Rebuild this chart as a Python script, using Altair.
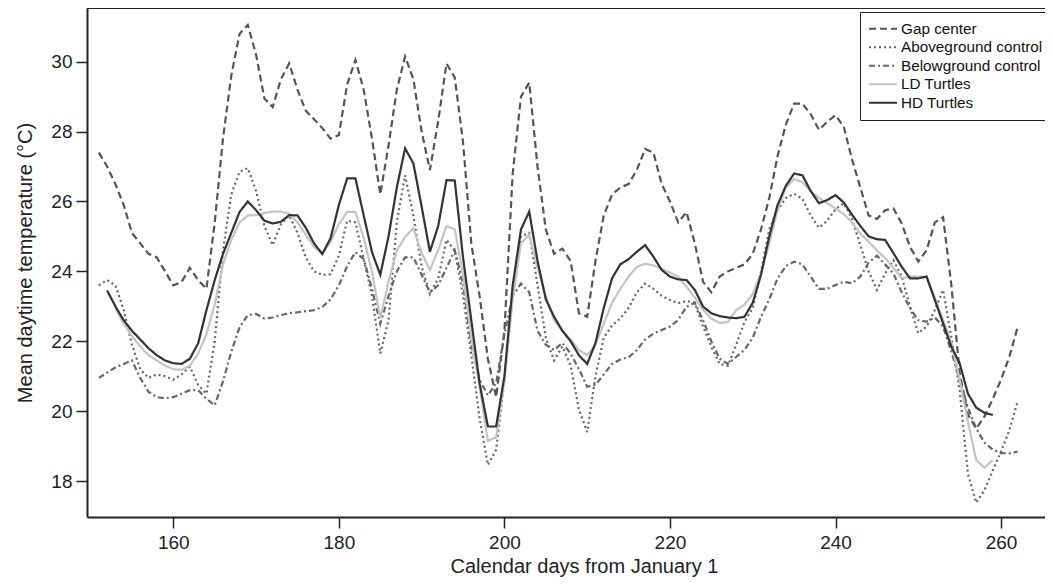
import altair as alt
import pandas as pd

# ---------------- data ----------------
gap_days = list(range(151, 263))
gap_center = [27.4, 27.0, 26.5, 25.9, 25.1, 24.8, 24.5, 24.4, 24.0, 23.6,
              23.7, 24.1, 23.75, 23.5, 25.4, 27.8, 29.6, 30.8, 31.05, 30.2,
              28.95, 28.7, 29.5, 29.95, 29.2, 28.6, 28.35, 28.1, 27.8, 27.9,
              29.35, 30.05, 29.2, 27.8, 26.2, 27.6, 29.2, 30.15, 29.5, 28.0,
              26.9, 28.3, 29.95, 29.55, 27.7, 24.8, 23.3, 21.5, 20.4, 22.3,
              26.8, 29.0, 29.4, 27.0, 25.2, 24.5, 24.65, 24.3, 22.8, 22.7,
              24.3, 25.6, 26.2, 26.4, 26.5, 26.9, 27.5, 27.4, 26.5, 26.0,
              25.4, 25.7, 24.8, 23.7, 23.4, 23.85, 24.0, 24.1, 24.2, 24.5,
              25.2, 26.1, 27.3, 28.2, 28.8, 28.8, 28.5, 28.05, 28.28, 28.47,
              28.14, 27.2, 26.4, 25.6, 25.5, 25.75, 25.8, 25.37, 24.7, 24.28,
              24.6, 25.4, 25.55, 23.6, 21.1, 19.9, 19.5, 19.85, 20.35, 20.9,
              21.55, 22.4]

above_days = list(range(151, 263))
aboveground = [23.6, 23.75, 23.6, 22.9, 21.9, 21.2, 20.95, 21.05, 21.0, 20.9,
               21.05, 21.27, 20.75, 20.5, 22.0, 24.6, 26.2, 26.85, 26.95, 26.3,
               25.3, 24.75, 25.35, 25.6, 25.1, 24.4, 24.0, 23.9, 23.92, 24.45,
               25.45, 25.4, 24.35, 23.3, 21.65, 22.6, 25.4, 26.75, 25.6, 24.13,
               23.35, 23.8, 24.9, 24.6, 23.3, 21.6, 19.8, 18.46, 18.9, 20.9,
               23.3, 25.0, 25.1, 23.6, 22.1, 21.45, 21.85, 21.3, 20.05, 19.4,
               21.0, 22.1, 22.45, 22.65, 22.95, 23.4, 23.65, 23.5, 23.3, 23.18,
               23.09, 23.15, 23.1, 22.42, 21.84, 21.35, 21.3, 21.9, 22.55, 22.95,
               24.0, 25.2, 25.75, 26.1, 26.22, 26.08, 25.6, 25.25, 25.45, 25.78,
               25.95, 25.5, 24.75, 24.0, 23.47, 23.94, 24.32, 23.85, 22.99, 22.23,
               22.42, 22.89, 23.47, 22.1, 20.6, 18.2, 17.38, 17.74, 18.3, 18.85,
               19.45, 20.27]

below_days = list(range(151, 263))
belowground = [20.95, 21.1, 21.25, 21.35, 21.45, 20.95, 20.55, 20.4, 20.37, 20.4,
               20.5, 20.6, 20.6, 20.35, 20.17, 20.85, 21.7, 22.4, 22.75, 22.78,
               22.65, 22.68, 22.75, 22.8, 22.83, 22.86, 22.89, 22.98, 23.2, 23.6,
               24.15, 24.55, 24.35, 23.5, 22.5, 23.3, 24.0, 24.4, 24.4, 23.9,
               23.4, 23.6, 24.1, 24.6, 23.66, 21.9, 20.9, 20.45, 20.8, 22.2,
               23.3, 23.65, 23.4, 22.3, 21.9, 21.75, 21.95, 21.65, 21.2, 20.7,
               20.75, 21.05, 21.35, 21.48, 21.54, 21.75, 22.05, 22.22, 22.32, 22.42,
               22.61, 22.99, 23.1, 22.6, 22.0, 21.5, 21.35, 21.55, 21.75, 22.1,
               22.7, 23.2, 23.8, 24.15, 24.28, 24.2, 23.85, 23.5, 23.5, 23.61,
               23.7, 23.66, 23.85, 24.25, 24.45, 24.2, 23.94, 23.4, 22.95, 22.6,
               22.56, 22.68, 22.42, 21.7, 20.9, 20.1, 19.5, 19.1, 18.9, 18.8,
               18.79, 18.84]

ld_days = list(range(153, 260))
ld_turtles = [22.95, 22.5, 22.15, 21.85, 21.6, 21.45, 21.3, 21.2,
              21.18, 21.3, 21.65, 22.2, 23.05, 24.2, 24.9, 25.4, 25.6, 25.61,
              25.67, 25.71, 25.71, 25.65, 25.4, 25.05, 24.7, 24.5, 24.85, 25.35,
              25.7, 25.7, 24.95, 24.0, 22.66, 23.7, 24.6, 24.99, 25.23, 24.52,
              24.04, 24.61, 25.3, 25.2, 23.9, 22.1, 20.7, 19.15, 19.25, 20.9,
              23.2, 24.8, 25.05, 24.1, 23.3, 22.6, 22.3, 22.05, 21.75, 21.6,
              21.9, 22.5, 23.1, 23.5, 23.85, 24.13, 24.22, 24.17, 24.08, 23.96,
              23.85, 23.56, 23.25, 22.9, 22.65, 22.52, 22.55, 22.89, 23.05, 23.35,
              23.95, 24.8, 25.75, 26.4, 26.64, 26.55, 26.3, 26.1, 25.95, 25.8,
              25.64, 25.4, 25.08, 24.85, 24.6, 24.38, 24.09, 23.8, 23.85, 23.85,
              23.85, 23.25, 22.61, 21.95, 20.9, 19.7, 18.6, 18.38, 18.6]

hd_days = list(range(152, 260))
hd_turtles = [23.45, 23.0, 22.6, 22.3, 22.05, 21.8, 21.6, 21.45, 21.37,
              21.35, 21.5, 21.94, 22.89, 23.75, 24.5, 25.1, 25.7, 26.0, 25.75,
              25.45, 25.37, 25.42, 25.61, 25.6, 25.25, 24.8, 24.5, 24.95, 25.9,
              26.66, 26.66, 25.6, 24.55, 23.9, 25.0, 26.4, 27.52, 27.09, 25.85,
              24.56, 25.3, 26.61, 26.6, 24.4, 22.6, 20.8, 19.56, 19.56, 21.0,
              23.6, 25.2, 25.71, 24.3, 23.2, 22.7, 22.3, 22.0, 21.6, 21.35,
              21.95, 22.95, 23.8, 24.2, 24.35, 24.56, 24.75, 24.42, 24.04, 23.85,
              23.77, 23.75, 23.47, 22.99, 22.8, 22.72, 22.68, 22.66, 22.7, 23.1,
              23.9, 25.0, 25.9, 26.45, 26.8, 26.75, 26.3, 25.95, 26.04, 26.18,
              25.97, 25.62, 25.3, 25.0, 24.92, 24.9, 24.52, 24.13, 23.8, 23.8,
              23.85, 23.18, 22.51, 21.84, 21.37, 20.5, 20.1, 19.95, 19.89]

series_names = ["Gap center", "Aboveground control", "Belowground control",
                "LD Turtles", "HD Turtles"]
series_colors = ["#555555", "#666666", "#666666", "#c4c4c4", "#333333"]
series_dashes = [[7, 4], [2, 3], [6, 3, 2, 3], [1, 0], [1, 0]]

x_ticks = [160, 180, 200, 220, 240, 260]
y_ticks = [18, 20, 22, 24, 26, 28, 30]

rows = []
for name, days, vals in [
    ("Gap center", gap_days, gap_center),
    ("Aboveground control", above_days, aboveground),
    ("Belowground control", below_days, belowground),
    ("LD Turtles", ld_days, ld_turtles),
    ("HD Turtles", hd_days, hd_turtles),
]:
    for d, v in zip(days, vals):
        rows.append({"series": name, "day": d, "temp": v})
df = pd.DataFrame(rows)

FONT = "Liberation Sans"
W, H = 958, 509

legend = alt.Legend(
    title=None, orient="none", legendX=773, legendY=4,
    strokeColor="#222222", fillColor="white", padding=8,
    symbolType="stroke", symbolSize=784, symbolStrokeWidth=2,
    labelFont=FONT, labelFontSize=15.3, labelColor="#111111",
    labelOffset=3, rowPadding=0.5, clipHeight=17.3,
)

lines = alt.Chart(df).mark_line(strokeWidth=2.2, strokeCap="butt").encode(
    x=alt.X("day:Q",
            scale=alt.Scale(domain=[149.57, 265.31], nice=False, zero=False),
            axis=alt.Axis(title="Calendar days from January 1", values=x_ticks,
                          labelPadding=5, titleY=39, titleX=497,
                          titleBaseline="top")),
    y=alt.Y("temp:Q",
            scale=alt.Scale(domain=[16.97, 31.537], nice=False, zero=False),
            axis=alt.Axis(title="Mean daytime temperature (°C)", values=y_ticks,
                          labelPadding=4, titlePadding=15)),
    color=alt.Color("series:N", sort=series_names,
                    scale=alt.Scale(domain=series_names, range=series_colors),
                    legend=legend),
    strokeDash=alt.StrokeDash("series:N", sort=series_names,
                              scale=alt.Scale(domain=series_names, range=series_dashes),
                              legend=legend),
)

top_line = alt.Chart(pd.DataFrame({"k": [0]})).mark_rule(
    color="#222222", strokeWidth=2).encode(
    x=alt.value(0), x2=alt.value(W), y=alt.value(0))

chart = alt.layer(lines, top_line).properties(
    width=W, height=H,
    autosize=alt.AutoSizeParams(type="none"),
    padding={"left": 79, "top": 0, "right": 0, "bottom": 60},
).configure_view(stroke=None).configure_axis(
    grid=False, domainColor="#222222", domainWidth=2,
    tickColor="#222222", tickWidth=1.5, tickSize=11,
    labelFont=FONT, labelFontSize=19, labelColor="#222222",
    titleFont=FONT, titleFontSize=20, titleFontWeight="normal",
    titleColor="#222222",
)

chart.save("out.html", embed_options={"renderer": "svg", "actions": False})
